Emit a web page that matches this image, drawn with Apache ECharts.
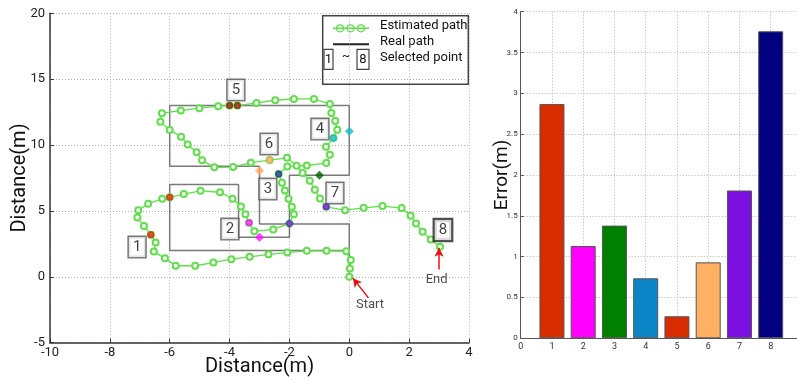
<!DOCTYPE html>
<html><head><meta charset="utf-8">
<script src="https://cdn.jsdelivr.net/npm/echarts@6/dist/echarts.min.js"></script>
<style>html,body{margin:0;padding:0;background:#fff}#c{width:797px;height:381px}</style>
</head><body><div id="c"></div>
<script>
// ---- Left plot data (metres) ----
const estimatedPath = [
[0,0],[0.02,0.64],[0.05,1.27],[-0.1,1.95],
[-0.76,1.97],[-1.42,1.97],[-2.07,1.84],[-2.7,1.71],[-3.33,1.52],[-3.94,1.34],[-4.54,1.08],[-5.15,0.84],[-5.8,0.84],
[-6.16,1.4],[-6.53,1.93],[-6.47,2.6],[-6.63,3.2],[-6.86,3.85],[-7.08,4.5],[-7.05,5.06],[-6.72,5.55],[-6.25,5.92],[-6,6.03],
[-5.53,6.28],[-4.97,6.53],[-4.32,6.42],[-3.9,5.93],[-3.62,5.34],[-3.47,4.74],[-3.35,4.1],[-3.17,3.45],[-2.54,3.6],[-2,4.05],
[-1.85,4.75],[-1.92,5.32],[-2.03,5.92],[-2.15,6.55],[-2.25,7.14],[-2.36,7.8],[-2.07,8.37],[-1.42,8.45],[-0.77,8.63],
[-0.65,9.26],[-0.78,9.87],[-0.53,10.54],[-0.4,11.17],[-0.47,11.82],[-0.6,12.44],[-0.65,13.11],
[-1.18,13.5],[-1.85,13.5],[-2.47,13.4],[-3.1,13.2],[-3.74,13],[-4,13],[-4.38,12.95],[-5.01,12.8],[-5.63,12.62],[-6.26,12.42],
[-6.31,11.76],[-6,11.15],[-5.62,10.63],[-5.4,10.05],[-5.1,9.45],[-4.92,8.84],[-4.51,8.31],[-3.88,8.33],[-3.29,8.66],[-2.66,8.86],
[-2.08,9.03],[-1.76,8.43],[-1.56,7.88],[-1.32,7.3],[-1.15,6.6],[-0.98,5.95],[-0.77,5.31],
[-0.14,5.06],[0.48,5.24],[1.11,5.37],[1.75,5.22],[2.05,4.64],[2.23,4.05],[2.45,3.42],[2.72,2.84],[3.03,2.28]
];
const realPath = [
[0,0],[0,2],[-6,2],[-6,7],[-3.7,7],[-3.7,3],[-2,3],[-2,7.7],[0,7.7],[0,13],[-6,13],[-6,8.4],[-3,8.4],[-3,4],[0,4],[0,2]
];
// selected points: [x, y, point id]
const selectedEstimated = [[-6.63,3.2,1],[-3.35,4.1,2],[-2.36,7.8,3],[-0.53,10.54,4],[-4,13,5],[-2.66,8.86,6],[-0.77,5.31,7]];
const selectedReal = [[-6,6.03,1],[-3,3,2],[-1,7.7,3],[0,11.05,4],[-3.74,13,5],[-3,8.05,6],[-2,4.05,7]];
const labelNames = ['1','2','3','4','5','6','7','8'];
const labelPos = [[-7.09,2.26],[-3.99,3.62],[-2.72,6.66],[-0.98,11.21],[-3.79,14.18],[-2.68,10.08],[-0.48,6.36],[3.13,3.55]];
const startArrow = [[0.64,-1.6],[0.12,-0.1]];
const endArrow = [[3.0,0.55],[3.0,2.2]];
const startText = [0.69,-2.15];
const endText = [2.92,-0.25];
const leftXTicks = {min:-10, max:4, interval:2};
const leftYTicks = {min:-5, max:20, interval:5};
// ---- Right plot data ----
const points = [1,2,3,4,5,6,7,8];
const errors = [2.87,1.13,1.38,0.735,0.27,0.93,1.81,3.76];
const rightXTicks = {min:0, max:9, interval:1};
const rightYTicks = {min:0, max:4, interval:0.5};

// ---- styles ----
const barColors = ['#d92b00','#ff00ff','#007f00','#0a86c8','#d92b00','#ffb062','#7b10e0','#000080'];
const estColors = {1:'#dd2200',2:'#ff10ff',3:'#1a2f8f',4:'#18b8cc',5:'#8b1a00',6:'#ffa860',7:'#6a10d8'};
const realColors = {1:'#dd2200',2:'#ff10ff',3:'#006400',4:'#18b8cc',5:'#8b1a00',6:'#ffa860',7:'#5a18d0'};
const green = '#5fe04a';
const gridLine = {show:true, lineStyle:{color:'#b0b0b0', type:[1,2], width:1}};

const chart = echarts.init(document.getElementById('c'), null, {renderer:'canvas'});

const selData = [];
selectedReal.forEach(p => selData.push({value:[p[0],p[1]], symbol: p[2]===1||p[2]===5?'circle':'diamond', symbolSize: p[2]===1||p[2]===5?7:9, itemStyle:{color:realColors[p[2]]}}));
selectedEstimated.forEach(p => selData.push({value:[p[0],p[1]], symbol:'circle', symbolSize:7, itemStyle:{color:estColors[p[2]]}}));

const labelData = labelNames.map((n,i) => {
  const item = {value:[labelPos[i][0], labelPos[i][1], n]};
  if (n === '8') item.label = {borderWidth:2.2, borderColor:'#222'};
  return item;
});

const option = {
  animation:false,
  backgroundColor:'#fff',
  grid:[
    {left:50, top:13.3, width:419, height:329.4, outerBoundsMode:'none', containLabel:false},
    {left:520.7, top:11.7, width:281.25, height:326.6, outerBoundsMode:'none', containLabel:false}
  ],
  xAxis:[
    {type:'value', gridIndex:0, min:leftXTicks.min, max:leftXTicks.max, interval:leftXTicks.interval,
     name:'Distance(m)', nameLocation:'middle', nameGap:14, nameMoveOverlap:false,
     nameTextStyle:{fontFamily:'Roboto', fontSize:20, color:'#111'},
     axisLine:{show:true, onZero:false, lineStyle:{color:'#333', width:1.5}},
     axisTick:{show:true, inside:true, length:4, lineStyle:{color:'#333'}},
     axisLabel:{fontFamily:'Roboto', fontSize:13, color:'#222', margin:4},
     splitLine:gridLine},
    {type:'value', gridIndex:1, min:rightXTicks.min, max:rightXTicks.max, interval:rightXTicks.interval,
     axisLine:{show:true, onZero:false, lineStyle:{color:'#555', width:1}},
     axisTick:{show:true, inside:true, length:3, lineStyle:{color:'#555'}},
     axisLabel:{fontFamily:'Roboto', fontSize:9, color:'#333', margin:4, showMaxLabel:false},
     splitLine:gridLine}
  ],
  yAxis:[
    {type:'value', gridIndex:0, min:leftYTicks.min, max:leftYTicks.max, interval:leftYTicks.interval,
     name:'Distance(m)', nameLocation:'middle', nameGap:20, nameMoveOverlap:false,
     nameTextStyle:{fontFamily:'Roboto', fontSize:20, color:'#111'},
     axisLine:{show:true, onZero:false, lineStyle:{color:'#333', width:1.5}},
     axisTick:{show:true, inside:true, length:4, lineStyle:{color:'#333'}},
     axisLabel:{fontFamily:'Roboto', fontSize:13, color:'#222', margin:5},
     splitLine:gridLine},
    {type:'value', gridIndex:1, min:rightYTicks.min, max:rightYTicks.max, interval:rightYTicks.interval,
     name:'Error(m)', nameLocation:'middle', nameGap:9, nameMoveOverlap:false,
     nameTextStyle:{fontFamily:'Roboto', fontSize:19, color:'#111'},
     axisLine:{show:true, onZero:false, lineStyle:{color:'#555', width:1}},
     axisTick:{show:true, inside:true, length:3, lineStyle:{color:'#555'}},
     axisLabel:{fontFamily:'Roboto', fontSize:8, color:'#333', margin:3},
     splitLine:gridLine}
  ],
  series:[
    {type:'line', xAxisIndex:0, yAxisIndex:0, data:realPath, symbol:'none', silent:true,
     lineStyle:{color:'#7a7a7a', width:1.5}, z:2},
    {type:'line', xAxisIndex:0, yAxisIndex:0, data:estimatedPath, symbol:'emptyCircle', symbolSize:6, silent:true,
     lineStyle:{color:green, width:1.3}, itemStyle:{color:green, borderColor:green, borderWidth:1}, z:3},
    {type:'scatter', xAxisIndex:0, yAxisIndex:0, data:selData, silent:true, z:5},
    {type:'scatter', xAxisIndex:0, yAxisIndex:0, data:labelData, symbolSize:0, silent:true, z:6,
     label:{show:true, position:'inside', formatter:p=>p.data.value[2], fontFamily:'Roboto', fontSize:15, lineHeight:16,
            color:'#111', backgroundColor:'#fff', borderColor:'#555', borderWidth:1.5, padding:[2,4]}},
    {type:'scatter', xAxisIndex:0, yAxisIndex:0, symbolSize:0, silent:true, z:6,
     data:[{value:[startText[0],startText[1],'Start']},{value:[endText[0],endText[1],'End']}],
     label:{show:true, position:'inside', formatter:p=>p.data.value[2], fontFamily:'Roboto', fontSize:13, color:'#222'},
     markLine:{silent:true, symbol:['none','arrow'], symbolSize:[7,9], animation:false,
       lineStyle:{color:'#ee1111', width:1.5, type:'solid'}, label:{show:false},
       data:[[{coord:startArrow[0]},{coord:startArrow[1]}],[{coord:endArrow[0]},{coord:endArrow[1]}]]}},
    {type:'bar', xAxisIndex:1, yAxisIndex:1, barWidth:25, silent:true,
     data:points.map((p,i)=>({value:[p,errors[i]], itemStyle:{color:barColors[i]}})),
     itemStyle:{borderColor:'#555', borderWidth:1}}
  ],
  graphic:[
    {type:'group', z:100, children:[
      {type:'rect', shape:{x:322.7,y:15.7,width:145.6,height:68.6}, style:{fill:'#fff', stroke:'#444', lineWidth:1.5}},
      {type:'line', shape:{x1:333,y1:28.3,x2:369,y2:28.3}, style:{stroke:green, lineWidth:1.5}},
      {type:'circle', shape:{cx:340,cy:28.3,r:3.5}, style:{fill:'none', stroke:green, lineWidth:1.2}},
      {type:'circle', shape:{cx:350.5,cy:28.3,r:3.5}, style:{fill:'none', stroke:green, lineWidth:1.2}},
      {type:'circle', shape:{cx:361,cy:28.3,r:3.5}, style:{fill:'none', stroke:green, lineWidth:1.2}},
      {type:'text', x:380, y:26, style:{text:'Estimated path', fontFamily:'Roboto', fontSize:13, fill:'#111', verticalAlign:'middle'}},
      {type:'line', shape:{x1:333,y1:44.3,x2:369,y2:44.3}, style:{stroke:'#222', lineWidth:2}},
      {type:'text', x:380, y:41.7, style:{text:'Real path', fontFamily:'Roboto', fontSize:13, fill:'#111', verticalAlign:'middle'}},
      {type:'rect', shape:{x:324,y:49.3,width:9,height:20}, style:{fill:'#fff', stroke:'#444', lineWidth:1.2}},
      {type:'text', x:328.5, y:59.5, style:{text:'1', fontFamily:'Roboto', fontSize:13, fill:'#111', align:'center', verticalAlign:'middle'}},
      {type:'text', x:346, y:57, style:{text:'~', fontFamily:'Roboto', fontSize:12, fill:'#111', align:'center', verticalAlign:'middle'}},
      {type:'rect', shape:{x:357,y:49.3,width:12,height:20}, style:{fill:'#fff', stroke:'#444', lineWidth:1.2}},
      {type:'text', x:363, y:59.5, style:{text:'8', fontFamily:'Roboto', fontSize:13, fill:'#111', align:'center', verticalAlign:'middle'}},
      {type:'text', x:380, y:57.3, style:{text:'Selected point', fontFamily:'Roboto', fontSize:13, fill:'#111', verticalAlign:'middle'}}
    ]},
    {type:'text', z:100, x:660, y:368, scaleX:0.72, originX:660, originY:368,
     style:{text:'Point', fontFamily:'Roboto', fontSize:20, fill:'#111', align:'center', verticalAlign:'middle'}}
  ]
};
chart.setOption(option);
</script></body></html>
